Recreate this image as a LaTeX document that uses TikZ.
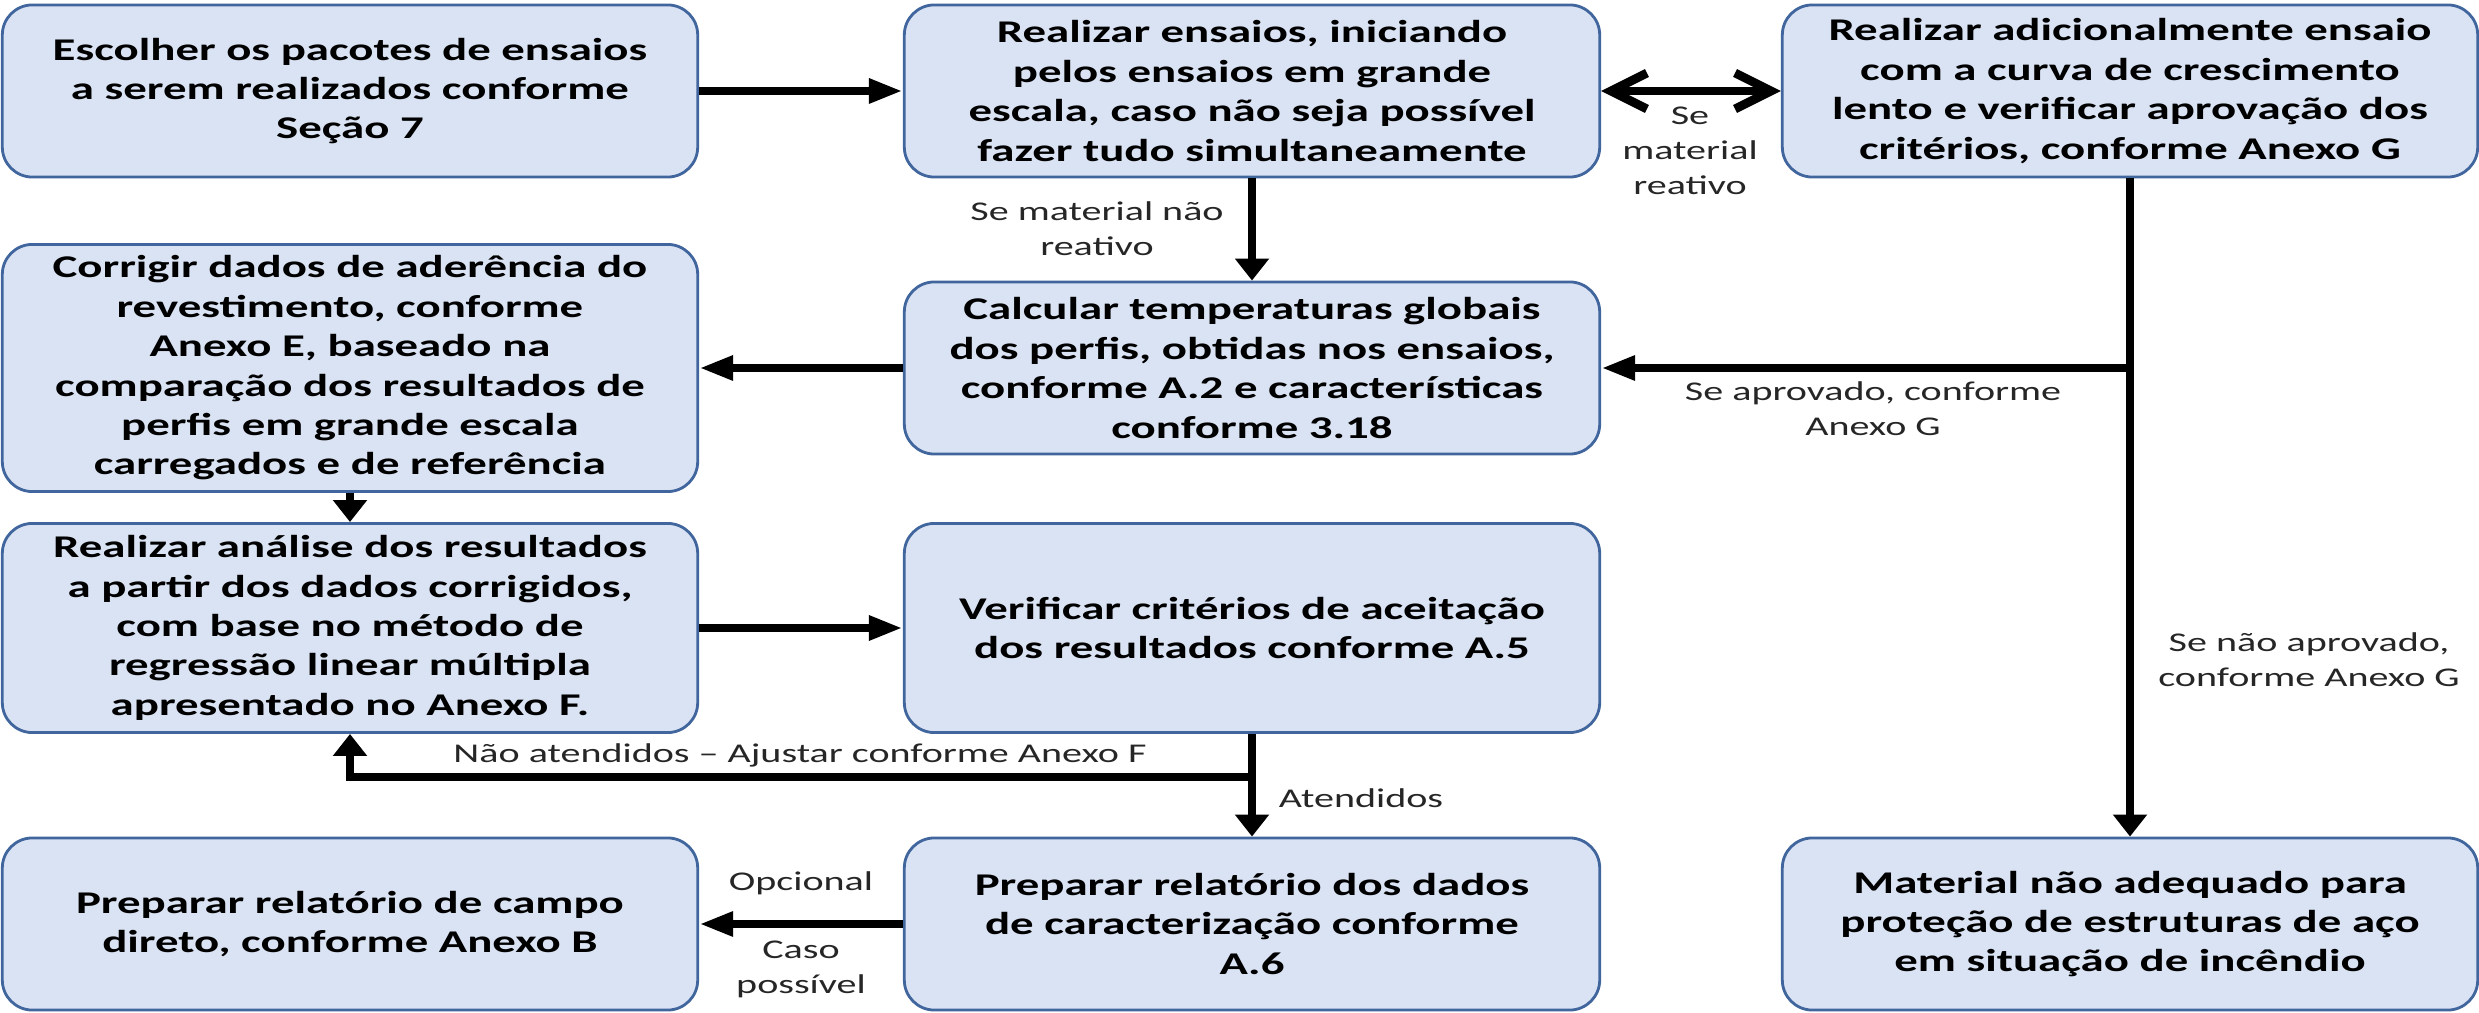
\documentclass[tikz,border=0pt]{standalone}
\usepackage{fontspec}
\setmainfont{Carlito}[FakeStretch=1.48]
\usepackage{tikz}
\usetikzlibrary{arrows.meta,positioning,calc}
\definecolor{boxfill}{HTML}{DAE3F3}
\definecolor{boxline}{HTML}{41669E}
\tikzset{
  stage/.style={draw=boxline, line width=0.8pt, fill=boxfill, rounded corners=3mm, align=center, minimum width=6.95cm, minimum height=1.72cm, inner sep=0pt, font=\fontsize{9}{11.2}\selectfont\bfseries},
  note/.style={align=center, inner sep=0pt, font=\fontsize{7.7}{10}\selectfont, text=black!85},
  flow/.style={line width=2.5pt},
  harr/.style={flow, -{Triangle[length=3.4mm, width=2.3mm]}},
  varr/.style={flow, -{Triangle[length=2.2mm, width=3.3mm]}},
  barb/.style={flow, {Straight Barb[length=3.6mm, width=3.6mm]}-{Straight Barb[length=3.6mm, width=3.6mm]}}
}

\begin{document}
\begin{tikzpicture}[x=0.01cm, y=-0.01cm]
\useasboundingbox (0,0) rectangle (2479,1013);
% caixas
\node[stage] (choose) at (350,91) {Escolher os pacotes de ensaios\\a serem realizados conforme\\Seção 7};
\node[stage] (tests) at (1252,91) {Realizar ensaios, iniciando\\pelos ensaios em grande\\escala, caso não seja possível\\fazer tudo simultaneamente};
\node[stage] (slow) at (2130,91) {Realizar adicionalmente ensaio\\com a curva de crescimento\\lento e verificar aprovação dos\\critérios, conforme Anexo G};
\node[stage, minimum height=2.47cm] (adhesion) at (350,368) {Corrigir dados de aderência do\\revestimento, conforme\\Anexo E, baseado na\\comparação dos resultados de\\perfis em grande escala\\carregados e de referência};
\node[stage] (temps) at (1252,368) {Calcular temperaturas globais\\dos perfis, obtidas nos ensaios,\\conforme A.2 e características\\conforme 3.18};
\node[stage, minimum height=2.09cm] (regress) at (350,628) {Realizar análise dos resultados\\a partir dos dados corrigidos,\\com base no método de\\regressão linear múltipla\\apresentado no Anexo F.};
\node[stage, minimum height=2.09cm] (accept) at (1252,628) {Verificar critérios de aceitação\\dos resultados conforme A.5};
\node[stage] (field) at (350,924) {Preparar relatório de campo\\direto, conforme Anexo B};
\node[stage] (report) at (1252,924) {Preparar relatório dos dados\\de caracterização conforme\\A.6};
\node[stage] (unfit) at (2130,924) {Material não adequado para\\proteção de estruturas de aço\\em situação de incêndio};
% ligações
\draw[harr] (choose) -- (tests);
\draw[barb] (tests) -- (slow);
\draw[varr] (tests) -- (temps);
\coordinate (approved) at (slow.south |- temps.east);
\draw[varr] (slow) -- (unfit);
\draw[harr] (approved) -- (temps);
\draw[harr] (temps) -- (adhesion);
\draw[varr] (adhesion) -- (regress);
\draw[harr] (regress) -- (accept);
\draw[varr] (accept) -- (report);
\coordinate (rejected) at ($(accept.south)+(0,43)$);
\draw[varr] (rejected) -| (regress.south);
\draw[harr] (report) -- (field);
% rótulos
\node[note] (l-react) at (1690,151) {Se\\material\\reativo};
\node[note] (l-nonreact) at (1097,229) {Se material não\\reativo};
\node[note] (l-ok) at (1873,409) {Se aprovado, conforme\\Anexo G};
\node[note] (l-notok) at (2309,660) {Se não aprovado,\\conforme Anexo G};
\node[note] (l-adjust) at (800,755) {Não atendidos – Ajustar conforme Anexo F};
\node[note] (l-met) at (1361,798) {Atendidos};
\node[note] (l-opt) at (801,883) {Opcional};
\node[note] (l-poss) at (801,969) {Caso\\possível};
\end{tikzpicture}
\end{document}
